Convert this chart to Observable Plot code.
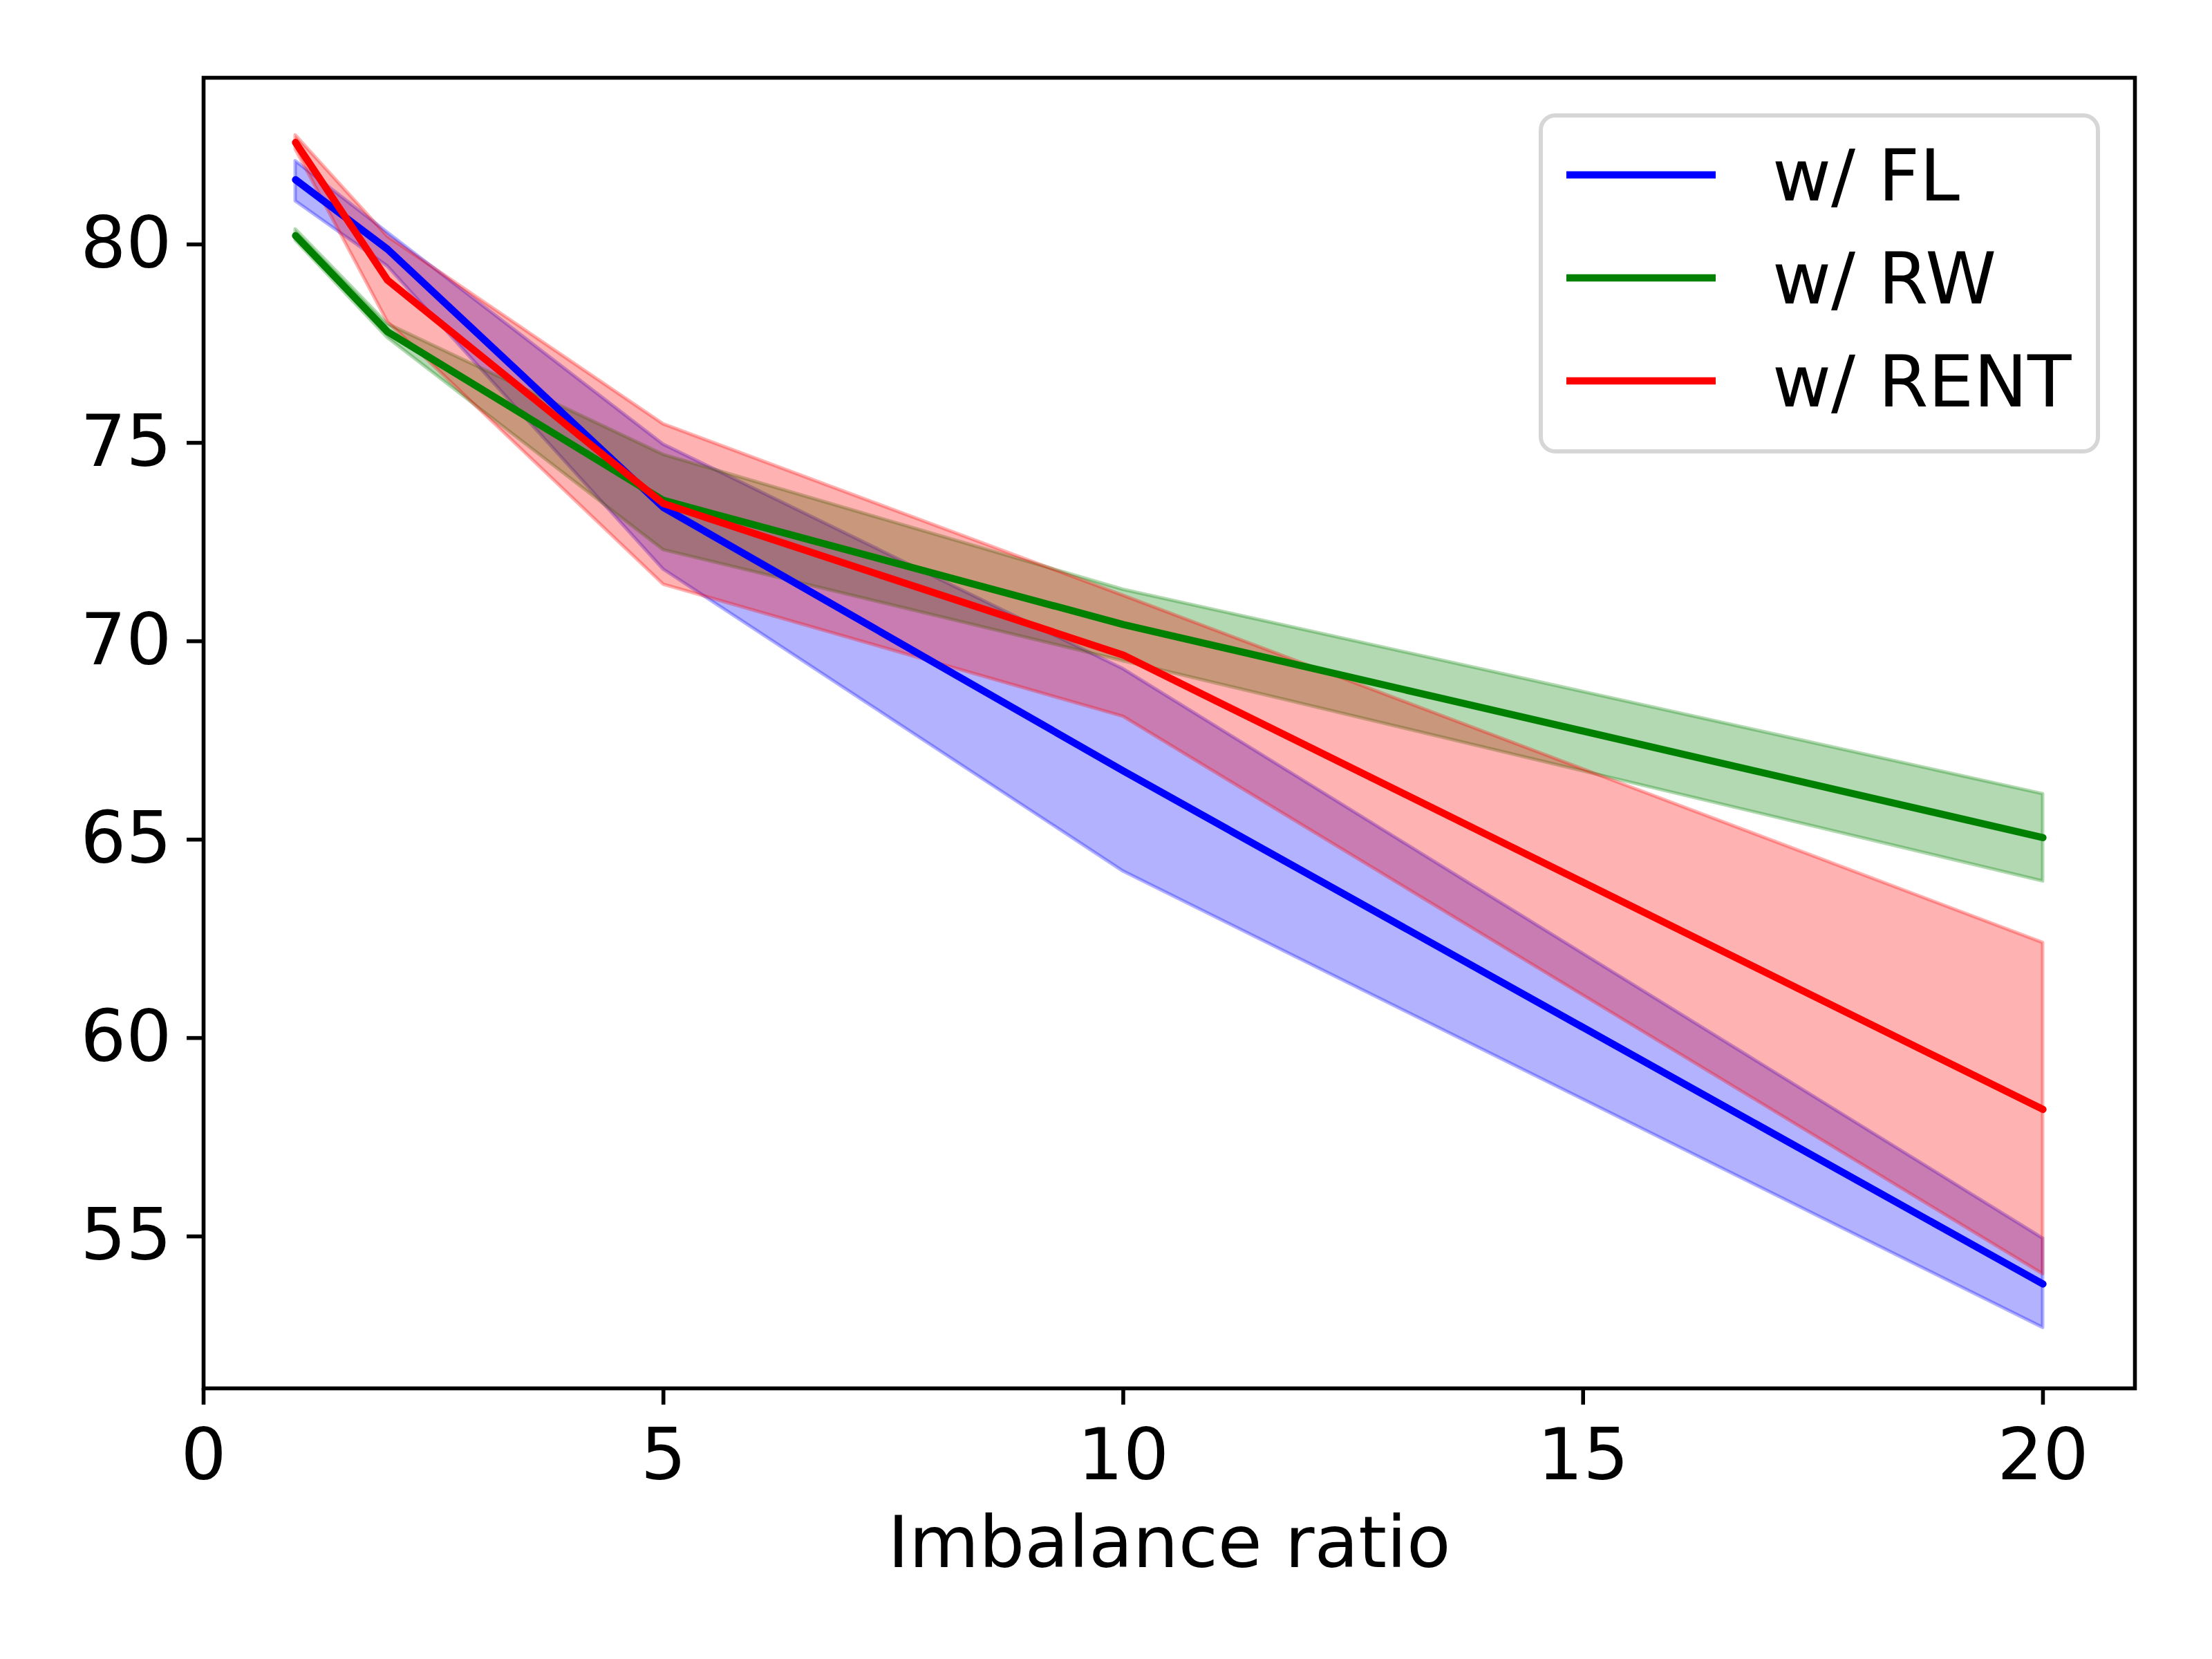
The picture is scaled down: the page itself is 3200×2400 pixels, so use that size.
<!DOCTYPE html>
<html><head><meta charset="utf-8">
<script src="https://cdn.jsdelivr.net/npm/d3@7"></script>
<script src="https://cdn.jsdelivr.net/npm/@observablehq/plot@0.6"></script>
<style>body{margin:0;background:#fff}</style>
</head><body><div id="chart"></div>
<script>
const ratios = [1, 2, 5, 10, 20];
const seriesNames = ["w/ FL", "w/ RW", "w/ RENT"];
const seriesColors = ["#0000ff", "#008000", "#ff0000"];

const flMean = [81.63, 79.88, 73.37, 66.73, 53.80];
const flLow  = [81.09, 79.45, 71.81, 64.20, 52.70];
const flHigh = [82.10, 80.30, 74.96, 69.30, 54.95];

const rwMean = [80.22, 77.80, 73.55, 70.42, 65.05];
const rwLow  = [80.10, 77.65, 72.30, 69.50, 63.95];
const rwHigh = [80.38, 78.00, 74.70, 71.30, 66.15];

const rentMean = [82.57, 79.10, 73.47, 69.65, 58.20];
const rentLow  = [82.40, 78.05, 71.43, 68.10, 54.05];
const rentHigh = [82.75, 80.20, 75.47, 71.15, 62.40];

const xTicks = [0, 5, 10, 15, 20];
const yTicks = [55, 60, 65, 70, 75, 80];
const xLabel = "Imbalance ratio";

const means = [flMean, rwMean, rentMean];
const lows = [flLow, rwLow, rentLow];
const highs = [flHigh, rwHigh, rentHigh];

const rows = [];
seriesNames.forEach((s, i) => ratios.forEach((r, j) => rows.push({series: s, x: r, mean: means[i][j], lo: lows[i][j], hi: highs[i][j]})));

const W = 3200, H = 2400;
const FS = 104;
const plot = Plot.plot({
  width: W, height: H,
  marginLeft: 294, marginRight: 112, marginTop: 112, marginBottom: 392,
  style: {fontFamily: "DejaVu Sans", fontSize: FS + "px", background: "#fff", color: "#000", overflow: "visible"},
  x: {domain: [0, 21]},
  y: {domain: [51.17, 84.2]},
  color: {domain: seriesNames, range: seriesColors},
  marks: [
    Plot.areaY(rows, {x: "x", y1: "lo", y2: "hi", z: "series", fill: "series", fillOpacity: 0.3, stroke: "series", strokeOpacity: 0.3, strokeWidth: 5}),
    Plot.line(rows, {x: "x", y: "mean", z: "series", stroke: "series", strokeWidth: 10.4, strokeLinejoin: "round"}),
    Plot.frame({stroke: "#000", strokeWidth: 5.6}),
    Plot.axisX({ticks: xTicks, tickFormat: d => String(d), tickSize: 24, tickPadding: 34, fontSize: FS, strokeWidth: 5.6, label: null}),
    Plot.axisY({ticks: yTicks, tickFormat: d => String(d), tickSize: 24, tickPadding: 22, fontSize: FS, strokeWidth: 5.6, label: null}),
    Plot.text([xLabel], {frameAnchor: "bottom", dy: 258, lineAnchor: "bottom", fontSize: FS, fill: "#000"})
  ]
});
document.getElementById("chart").appendChild(plot);

// legend
const svg = d3.select(plot);
const lg = svg.append("g");
lg.append("rect").attr("x", 2229).attr("y", 167).attr("width", 806).attr("height", 486)
  .attr("rx", 21).attr("ry", 21).attr("fill", "#fff").attr("fill-opacity", 0.8)
  .attr("stroke", "#d6d6d6").attr("stroke-width", 6);
const rowY = [253, 402, 551];
seriesNames.forEach((s, i) => {
  lg.append("line").attr("x1", 2266).attr("x2", 2482).attr("y1", rowY[i]).attr("y2", rowY[i])
    .attr("stroke", seriesColors[i]).attr("stroke-width", 10.4);
  lg.append("text").attr("x", 2564).attr("y", rowY[i]).attr("dy", "0.36em")
    .attr("text-anchor", "start")
    .attr("font-family", "DejaVu Sans").attr("font-size", FS).attr("fill", "#000").text(s);
});
</script>
</body></html>
